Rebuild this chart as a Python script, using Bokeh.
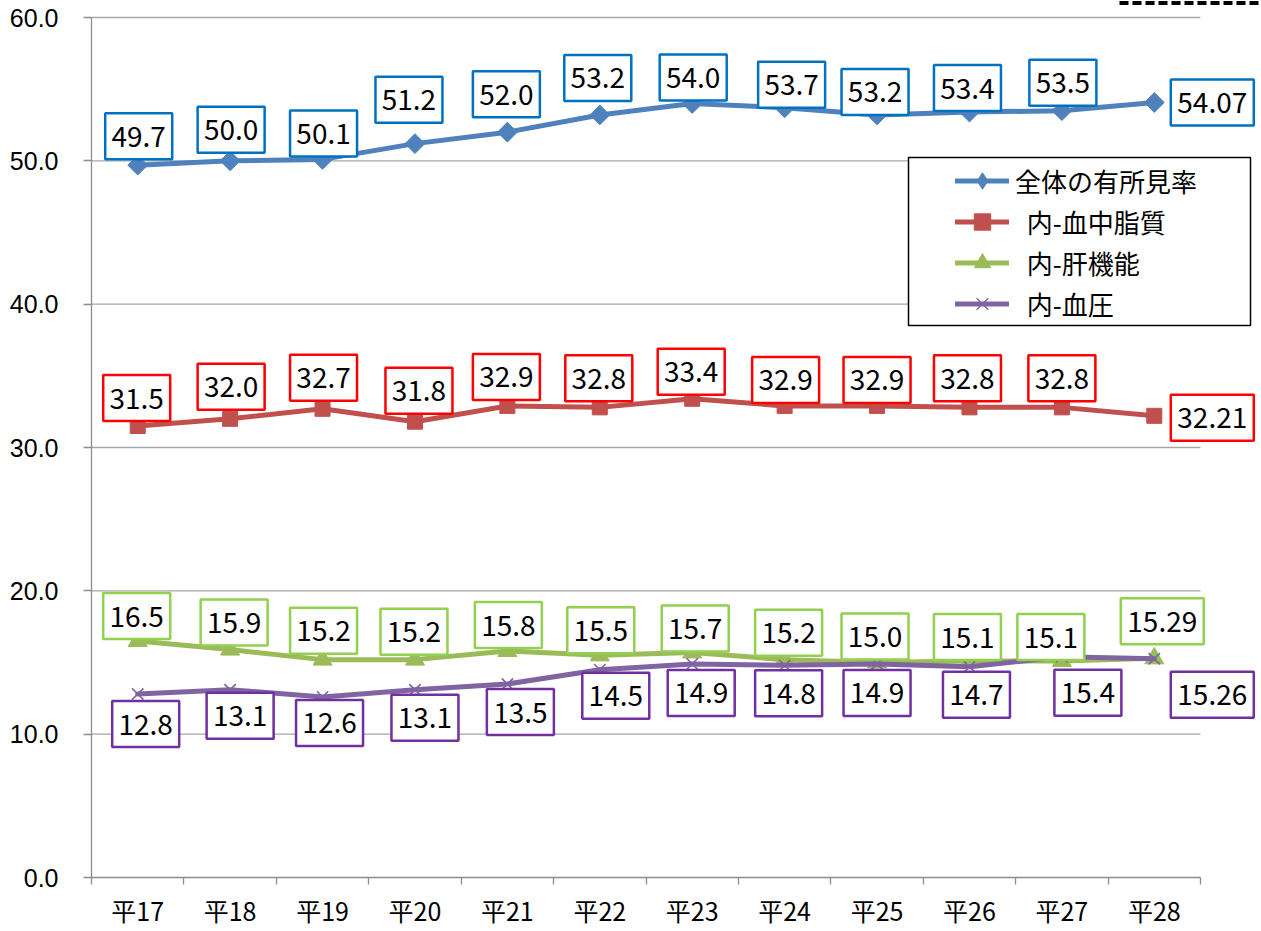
import numpy as np
from bokeh.plotting import figure
from bokeh.models import Range1d, FixedTicker, NumeralTickFormatter, Legend, LegendItem
from bokeh.core.properties import value
from bokeh.embed import file_html
from bokeh.resources import INLINE

# ---- data ----
years = ["平17", "平18", "平19", "平20", "平21", "平22", "平23", "平24", "平25", "平26", "平27", "平28"]
total = [49.7, 50.0, 50.1, 51.2, 52.0, 53.2, 54.0, 53.7, 53.2, 53.4, 53.5, 54.07]
lipid = [31.5, 32.0, 32.7, 31.8, 32.9, 32.8, 33.4, 32.9, 32.9, 32.8, 32.8, 32.21]
liver = [16.5, 15.9, 15.2, 15.2, 15.8, 15.5, 15.7, 15.2, 15.0, 15.1, 15.1, 15.29]
bp = [12.8, 13.1, 12.6, 13.1, 13.5, 14.5, 14.9, 14.8, 14.9, 14.7, 15.4, 15.26]
series_names = ["全体の有所見率", "  内-血中脂質", "  内-肝機能", "  内-血圧"]
y_ticks = [0, 10, 20, 30, 40, 50, 60]

# ---- label placement (screen px offsets from each point; +dy = downwards) ----
off_total = [(1, -29), (1, -31), (1, -26), (-6, -44), (-1, -38), (-2, -37), (1, -26), (7, -23), (-2, -23), (-2, -24), (1, -28), (58, 0)]
off_lipid = [(-1, -28), (1, -32), (1, -31), (4, -31), (-1, -29), (-1, -29), (-1, -27), (1, -26), (0, -26), (-2, -29), (0, -29), (58, 2)]
off_liver = [(-1, -25), (4, -27), (1, -29), (-1, -28), (1, -26), (1, -25), (3, -24), (4, -27), (-2, -26), (-2, -24), (-11, -24), (8, -37)]
off_bp = [(8, 30), (10, 26), (7, 26), (10, 28), (13, 28), (16, 26), (9, 29), (4, 28), (0, 29), (7, 28), (26, 36), (58, 36)]

FONT = "Noto Sans CJK JP"
n = len(years)
xs = np.arange(1, n + 1, dtype=float)

LEFT = 91
FIG_W = 1261
FRAME_W = FIG_W - LEFT
PLOT_TOP = 17            # px from top of figure where the value 60 sits
PLOT_H = 860             # px for 0..60
FRAME_H = PLOT_TOP + PLOT_H
PX_X = 1109 / 12.0
PX_Y = PLOT_H / 60.0
Y_END = 60 + PLOT_TOP / PX_Y

p = figure(frame_width=FRAME_W, frame_height=FRAME_H,
           x_range=Range1d(0.5, 0.5 + FRAME_W / PX_X), y_range=Range1d(0, Y_END),
           output_backend="svg", toolbar_location=None,
           min_border_left=LEFT, min_border_right=0, min_border_top=0, min_border_bottom=45)
p.outline_line_color = None
p.xgrid.visible = False
p.ygrid.visible = False
p.background_fill_color = "white"

GRID = "#A6A6A6"
AXIS = "#8C8C8C"

# gridlines (only across the category area)
gy = [t for t in y_ticks if t > 0]
p.segment(x0=[0.5] * len(gy), x1=[n + 0.5] * len(gy), y0=gy, y1=gy, line_color=GRID, line_width=1.3)

# dashed fragment at the top right edge
p.segment(x0=[0.5 + (1119 - 91) / PX_X], x1=[0.5 + (1275 - 91) / PX_X],
          y0=[Y_END - 2.5 / PX_Y], y1=[Y_END - 2.5 / PX_Y],
          line_color="black", line_width=4, line_dash="9 4")

# x axis
xa = p.xaxis[0]
xa.bounds = (0.5, n + 0.5)
xa.ticker = FixedTicker(ticks=list(xs), minor_ticks=[0.5 + i for i in range(n + 1)])
xa.major_label_overrides = {float(i + 1): years[i] for i in range(n)}
xa.axis_line_color = AXIS
xa.axis_line_width = 1.3
xa.major_tick_out = 0
xa.major_tick_in = 0
xa.minor_tick_out = 7
xa.minor_tick_in = 0
xa.minor_tick_line_color = AXIS
xa.minor_tick_line_width = 1.3
xa.major_label_standoff = 7
xa.major_label_text_font = FONT
xa.major_label_text_font_size = "25px"
xa.major_label_text_color = "black"

# y axis
ya = p.yaxis[0]
ya.bounds = (0, 60)
ya.ticker = FixedTicker(ticks=y_ticks)
ya.formatter = NumeralTickFormatter(format="0.0")
ya.axis_line_color = AXIS
ya.axis_line_width = 1.3
ya.major_tick_out = 8
ya.major_tick_in = 0
ya.major_tick_line_color = AXIS
ya.major_tick_line_width = 1.3
ya.minor_tick_out = 0
ya.minor_tick_in = 0
ya.major_label_standoff = 25
ya.major_label_text_font = "Liberation Sans"
ya.major_label_text_font_size = "25px"
ya.major_label_text_color = "black"

# legend frame
p.quad(left=(908 - 91) / PX_X + 0.5, right=(1250 - 91) / PX_X + 0.5,
       bottom=(877 - 325) / PX_Y, top=(877 - 157) / PX_Y,
       fill_color="white", line_color="black", line_width=1.5)

specs = [
    (total, "#4F81BD", dict(marker="square", size=14, angle=np.pi / 4), dict(marker="diamond", size=24)),
    (lipid, "#C0504D", dict(marker="square", size=15), None),
    (liver, "#9BBB59", dict(marker="triangle", size=19), None),
    (bp, "#8064A2", dict(marker="x", size=16, line_width=1.6), None),
]

items = []
for (vals, col, mk, legmk), name in zip(specs, series_names):
    r1 = p.line(xs, vals, line_color=col, line_width=5, line_join="round", line_cap="round")
    r2 = p.scatter(xs, vals, fill_color=col, line_color=col, **mk)
    if legmk is not None:
        # legend-only proxy (the plotted diamond is a rotated square)
        r3 = p.scatter(x=[np.nan], y=[np.nan], fill_color=col, line_color=col, **legmk)
        items.append(LegendItem(label=name, renderers=[r1, r3]))
    else:
        items.append(LegendItem(label=name, renderers=[r1, r2]))

# data labels
label_specs = [
    (total, off_total, "#0070C0"),
    (lipid, off_lipid, "#FF0000"),
    (liver, off_liver, "#92D050"),
    (bp, off_bp, "#7030A0"),
]
for vals, offs, bcol in label_specs:
    texts = [f"{v:.2f}" if i == n - 1 else f"{v:.1f}" for i, v in enumerate(vals)]
    lx = [xs[i] + offs[i][0] / PX_X for i in range(n)]
    ly = [vals[i] - offs[i][1] / PX_Y for i in range(n)]
    w = [83 if len(t) > 4 else 67 for t in texts]
    p.rect(lx, ly, width=w, height=46, width_units="screen", height_units="screen",
           fill_color="white", line_color=bcol, line_width=2.5)
    p.text(lx, ly, text=texts, text_align="center", text_baseline="middle",
           text_font=value(FONT), text_font_size="28px", text_color="black")

legend = Legend(items=items, location=(864, 553), orientation="vertical")
legend.border_line_color = None
legend.background_fill_alpha = 0
legend.padding = 0
legend.margin = 0
legend.spacing = 0
legend.glyph_width = 54
legend.glyph_height = 41
legend.label_height = 41
legend.label_standoff = 6
legend.label_text_font = FONT
legend.label_text_font_size = "26px"
legend.label_text_color = "black"
p.add_layout(legend)

open("out.html", "w").write(file_html(p, INLINE))
